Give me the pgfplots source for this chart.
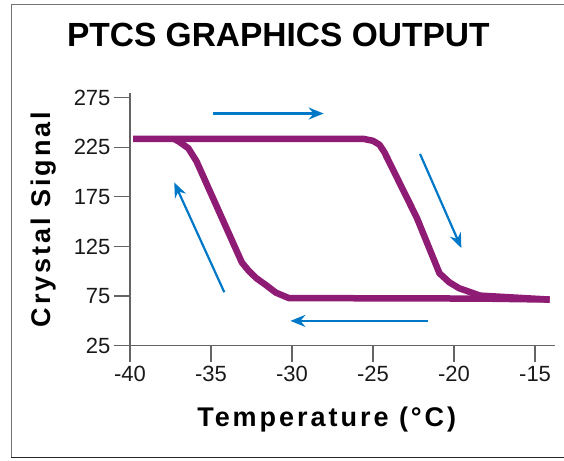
\documentclass[border=0pt]{standalone}
\usepackage{fontspec}
\setmainfont{Liberation Sans}
\newfontfamily\spaced[LetterSpace=11]{Liberation Sans}
\usepackage{pgfplots}
\pgfplotsset{compat=1.18}
\usetikzlibrary{arrows.meta}
\definecolor{curve}{RGB}{142,27,116}
\definecolor{arr}{RGB}{0,120,200}
\definecolor{axgray}{RGB}{100,100,100}
\begin{document}
\begin{tikzpicture}[x=1pt,y=1pt]
\useasboundingbox (0,0) rectangle (564,-460);
\begin{axis}[
  at={(130pt,-345.7pt)}, anchor=south west,
  scale only axis, width=425pt, height=253pt,
  xmin=-40, xmax=-13.77, ymin=25, ymax=280,
  axis lines*=left,
  axis line style={axgray, line width=1.2pt},
  tick style={axgray, line width=1.2pt},
  tick align=outside, major tick length=16pt,
  xtick={-40,-35,-30,-25,-20,-15},
  xticklabels={-40,-35,-30,-25,-20,-15},
  ytick={25,75,125,175,225,275},
  yticklabels={25,75,125,175,225,275},
  ticklabel style={font=\fontsize{22}{26}\selectfont, text=black!90},
  xticklabel style={yshift=-1pt},
  yticklabel style={xshift=0pt},
  xlabel={\spaced\bfseries Temperature (°C)},
  ylabel={\spaced\bfseries Crystal Signal},
  xlabel style={font=\fontsize{27}{32}\selectfont, at={(axis description cs:0.463,-0.320)}, anchor=base},
  ylabel style={font=\fontsize{27}{32}\selectfont, at={(axis description cs:-0.2035,0.499)}, anchor=center, rotate=0},
  title={PTCS GRAPHICS OUTPUT},
  title style={font=\fontsize{33.5}{40}\selectfont\bfseries, at={(axis description cs:0.349,1.157)}, anchor=base},
  clip=false,
]
% hysteresis curve: upper/right branch
\addplot[curve, line width=6.5pt, line join=round] coordinates {
  (-39.8,233.5) (-25.6,233.5) (-25.0,231.5) (-24.6,227.5) (-24.3,220) (-22.3,154) (-20.9,98) (-20.3,89) (-19.7,83) (-19.0,79) (-18.4,75.5) (-14.1,71.5)
};
% lower/left branch
\addplot[curve, line width=6.5pt, line join=round] coordinates {
  (-37.3,233.5) (-37.0,231) (-36.4,224) (-35.9,211) (-33.1,109) (-32.7,101) (-32.2,93) (-31.6,86) (-31.0,78.5) (-30.2,73) (-18.4,72.5) (-14.1,71.5)
};
% direction arrows
\addplot[arr, line width=2.2pt, -{Stealth[length=15pt,width=12pt,inset=5pt]}] coordinates {(-34.9,259) (-28.05,259)};
\addplot[arr, line width=2.2pt, -{Stealth[length=15pt,width=12pt,inset=5pt]}] coordinates {(-22.1,218.3) (-19.55,123.4)};
\addplot[arr, line width=2.2pt, -{Stealth[length=15pt,width=12pt,inset=5pt]}] coordinates {(-21.6,50) (-30.1,50)};
\addplot[arr, line width=2.2pt, -{Stealth[length=15pt,width=12pt,inset=5pt]}] coordinates {(-34.18,78.9) (-37.27,189.6)};
\end{axis}
\draw[black!55, line width=1pt] (11,-458) -- (11,-5) -- (564,-5);
\draw[black!85, line width=1.6pt] (11,-457.5) -- (564,-457.5);
\end{tikzpicture}
\end{document}
